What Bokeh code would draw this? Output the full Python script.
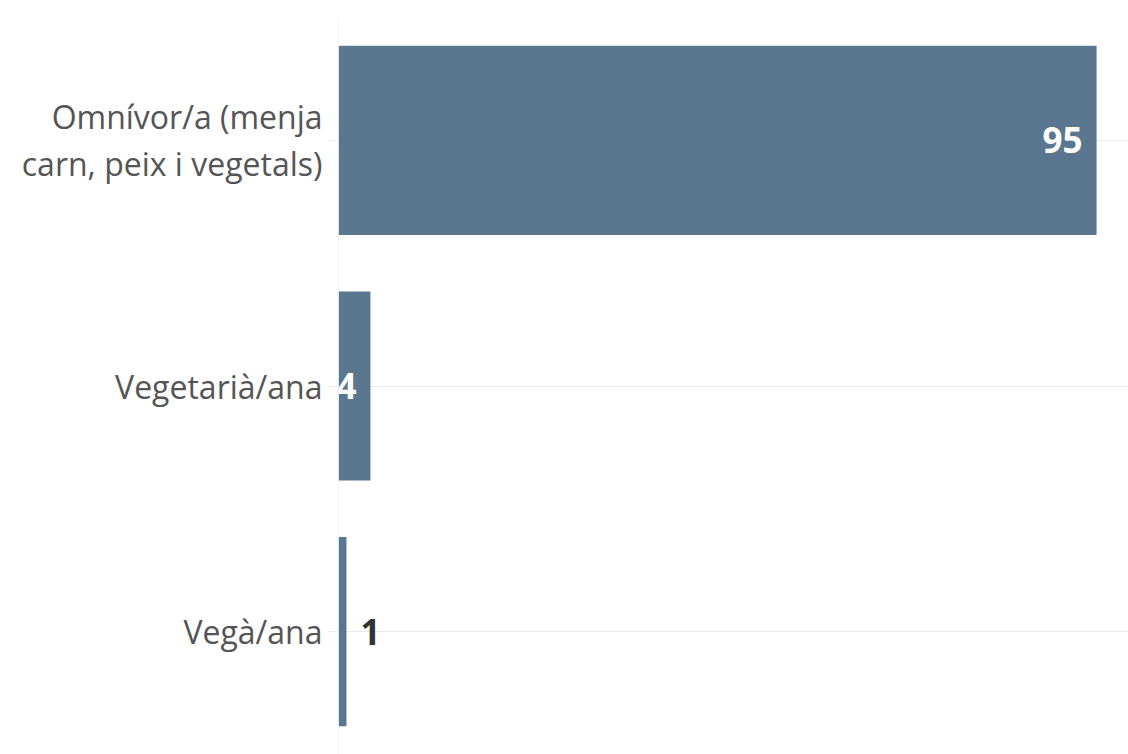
from bokeh.plotting import figure
from bokeh.models import FactorRange, ColumnDataSource, LabelSet, Span
from bokeh.core.properties import value
from bokeh.embed import file_html
from bokeh.resources import INLINE

categories = ["Omnívor/a (menja\ncarn, peix i vegetals)", "Vegetarià/ana", "Vegà/ana"]
values = [95, 4, 1]
labels = ["95", "4", "1"]

BAR = "#5b7790"
FONT = "Open Sans"

p = figure(width=1128, height=754, y_range=FactorRange(*reversed(categories)),
           x_range=(0, 99), output_backend="svg", toolbar_location=None,
           min_border_left=338, min_border_right=0, min_border_top=17, min_border_bottom=0)
p.outline_line_color = None
p.background_fill_color = "white"
p.border_fill_color = "white"

p.add_layout(Span(location=0, dimension="height", line_color="#ebebeb", line_width=1))
p.hbar(y=categories, right=values, height=0.77, color=BAR, line_color=None)

inside = [i for i, v in enumerate(values) if v >= 3]
outside = [i for i, v in enumerate(values) if v < 3]
src_in = ColumnDataSource(dict(y=[categories[i] for i in inside], x=[values[i] for i in inside],
                               t=[labels[i] for i in inside]))
src_out = ColumnDataSource(dict(y=[categories[i] for i in outside], x=[values[i] for i in outside],
                                t=[labels[i] for i in outside]))
p.add_layout(LabelSet(x="x", y="y", text="t", source=src_in, x_offset=-14, text_align="right",
                      text_baseline="middle", text_color="white", text_font=value(FONT),
                      text_font_style="bold", text_font_size="35px"))
p.add_layout(LabelSet(x="x", y="y", text="t", source=src_out, x_offset=14, text_align="left",
                      text_baseline="middle", text_color="#333333", text_font=value(FONT),
                      text_font_style="bold", text_font_size="35px"))

p.xaxis.visible = False
p.xgrid.visible = False
p.ygrid.grid_line_color = "#ebebeb"
p.yaxis.axis_line_color = None
p.yaxis.major_tick_line_color = "#ebebeb"
p.yaxis.major_tick_out = 10
p.yaxis.major_tick_in = 0
p.yaxis.major_label_standoff = 6
p.yaxis.major_label_text_font = FONT
p.yaxis.major_label_text_font_size = "32px"
p.yaxis.major_label_text_color = "#555555"
p.yaxis.major_label_text_align = "right"
p.yaxis.major_label_text_line_height = 1.1

open("out.html", "w").write(file_html(p, INLINE))
